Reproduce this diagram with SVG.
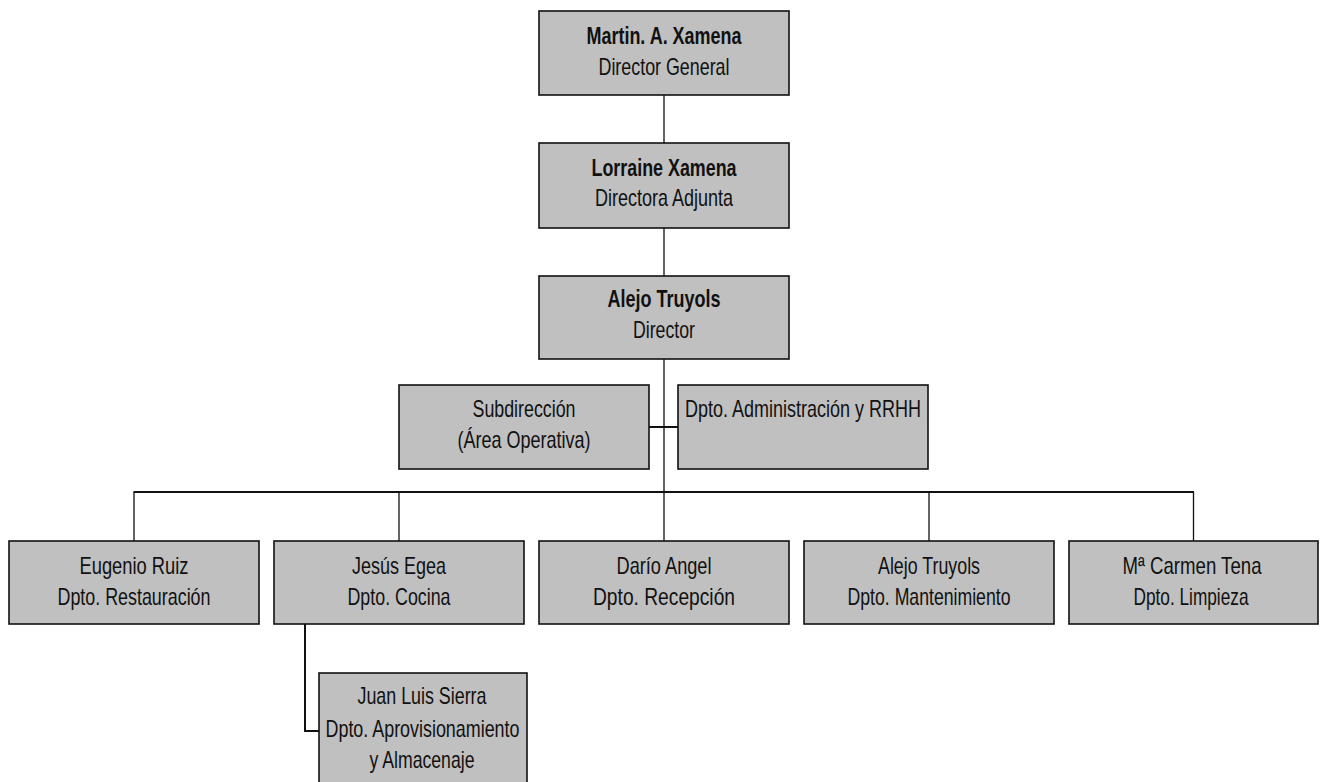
<svg xmlns="http://www.w3.org/2000/svg" width="1320" height="782" viewBox="0 0 1320 782">
<style>
.box{fill:#c0c0c0;stroke:#111;stroke-width:1.6}
.t{font-family:"Liberation Sans Narrow","Liberation Sans",Arial,sans-serif;font-size:24px;fill:#111;text-anchor:middle}
.b{font-weight:bold}
.ln{stroke:#111;stroke-width:1.3;fill:none}
.bus{stroke:#111;stroke-width:2;fill:none}
</style>
<rect width="1320" height="782" fill="#fff"/>
<g id="connectors">
<line class="ln" x1="664" y1="95" x2="664" y2="143"/>
<line class="ln" x1="664" y1="228" x2="664" y2="276"/>
<line class="ln" x1="664" y1="359" x2="664" y2="492"/>
<line class="bus" x1="649" y1="427" x2="678" y2="427"/>
<line class="bus" x1="133.5" y1="492" x2="1194" y2="492"/>
<line class="ln" x1="134" y1="492" x2="134" y2="541"/>
<line class="ln" x1="399" y1="492" x2="399" y2="541"/>
<line class="ln" x1="664" y1="492" x2="664" y2="541"/>
<line class="ln" x1="929" y1="492" x2="929" y2="541"/>
<line class="ln" x1="1193.5" y1="492" x2="1193.5" y2="541"/>
<polyline class="bus" points="305,624 305,731 319,731"/>
</g>
<g id="n_martin">
<rect class="box" x="539" y="11" width="250" height="84"/>
<text class="t b" x="664" y="44" textLength="155" lengthAdjust="spacingAndGlyphs">Martin. A. Xamena</text>
<text class="t" x="664" y="75" textLength="131" lengthAdjust="spacingAndGlyphs">Director General</text>
</g>
<g id="n_lorraine">
<rect class="box" x="539" y="143" width="250" height="85"/>
<text class="t b" x="664" y="176" textLength="145" lengthAdjust="spacingAndGlyphs">Lorraine Xamena</text>
<text class="t" x="664" y="206" textLength="138" lengthAdjust="spacingAndGlyphs">Directora Adjunta</text>
</g>
<g id="n_alejo_dir">
<rect class="box" x="539" y="276" width="250" height="83"/>
<text class="t b" x="664" y="307" textLength="113" lengthAdjust="spacingAndGlyphs">Alejo Truyols</text>
<text class="t" x="664" y="338" textLength="62" lengthAdjust="spacingAndGlyphs">Director</text>
</g>
<g id="n_subdir">
<rect class="box" x="399" y="385" width="250" height="84"/>
<text class="t" x="524" y="417" textLength="103" lengthAdjust="spacingAndGlyphs">Subdirección</text>
<text class="t" x="524" y="448" textLength="133" lengthAdjust="spacingAndGlyphs">(Área Operativa)</text>
</g>
<g id="n_admin">
<rect class="box" x="678" y="385" width="250" height="84"/>
<text class="t" x="803" y="417" textLength="236" lengthAdjust="spacingAndGlyphs">Dpto. Administración y RRHH</text>
</g>
<g id="n_eugenio">
<rect class="box" x="9" y="541" width="250" height="83"/>
<text class="t" x="134" y="574" textLength="109" lengthAdjust="spacingAndGlyphs">Eugenio Ruiz</text>
<text class="t" x="134" y="605" textLength="153" lengthAdjust="spacingAndGlyphs">Dpto. Restauración</text>
</g>
<g id="n_jesus">
<rect class="box" x="274" y="541" width="250" height="83"/>
<text class="t" x="399" y="574" textLength="94" lengthAdjust="spacingAndGlyphs">Jesús Egea</text>
<text class="t" x="399" y="605" textLength="103" lengthAdjust="spacingAndGlyphs">Dpto. Cocina</text>
</g>
<g id="n_dario">
<rect class="box" x="539" y="541" width="250" height="83"/>
<text class="t" x="664" y="574" textLength="95" lengthAdjust="spacingAndGlyphs">Darío Angel</text>
<text class="t" x="664" y="605" textLength="142" lengthAdjust="spacingAndGlyphs">Dpto. Recepción</text>
</g>
<g id="n_alejo_mant">
<rect class="box" x="804" y="541" width="250" height="83"/>
<text class="t" x="929" y="574" textLength="102" lengthAdjust="spacingAndGlyphs">Alejo Truyols</text>
<text class="t" x="929" y="605" textLength="163" lengthAdjust="spacingAndGlyphs">Dpto. Mantenimiento</text>
</g>
<g id="n_carmen">
<rect class="box" x="1069" y="541" width="249" height="83"/>
<text class="t" x="1192" y="574" textLength="139" lengthAdjust="spacingAndGlyphs">Mª Carmen Tena</text>
<text class="t" x="1191" y="605" textLength="115" lengthAdjust="spacingAndGlyphs">Dpto. Limpieza</text>
</g>
<g id="n_juan">
<rect class="box" x="319" y="673" width="208" height="120"/>
<text class="t" x="422" y="704" textLength="129" lengthAdjust="spacingAndGlyphs">Juan Luis Sierra</text>
<text class="t" x="422.5" y="737" textLength="194" lengthAdjust="spacingAndGlyphs">Dpto. Aprovisionamiento</text>
<text class="t" x="422" y="768" textLength="105" lengthAdjust="spacingAndGlyphs">y Almacenaje</text>
</g>
</svg>
